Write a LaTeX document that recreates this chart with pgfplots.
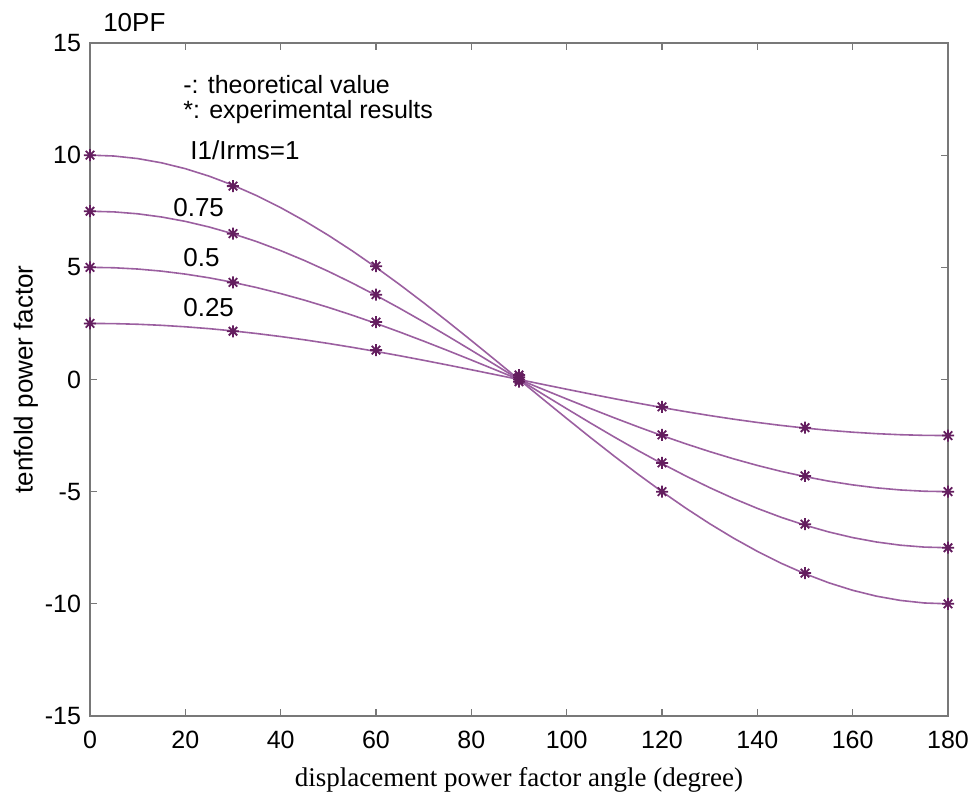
\documentclass[border=0pt]{standalone}
\usepackage{fontspec}
\setmainfont{Liberation Serif}
\newfontfamily\arial{Liberation Sans}
\usepackage{pgfplots}
\usepackage{pgfplotstable}
\pgfplotsset{compat=1.18}

\definecolor{curve}{RGB}{155,95,160}
\definecolor{markc}{RGB}{100,30,95}
\definecolor{axisgray}{RGB}{120,120,120}

\pgfdeclareplotmark{ast8}{%
  \pgfpathmoveto{\pgfqpoint{-\pgfplotmarksize}{0pt}}%
  \pgfpathlineto{\pgfqpoint{\pgfplotmarksize}{0pt}}%
  \pgfpathmoveto{\pgfqpoint{0pt}{-\pgfplotmarksize}}%
  \pgfpathlineto{\pgfqpoint{0pt}{\pgfplotmarksize}}%
  \pgfpathmoveto{\pgfqpoint{-0.707\pgfplotmarksize}{-0.707\pgfplotmarksize}}%
  \pgfpathlineto{\pgfqpoint{0.707\pgfplotmarksize}{0.707\pgfplotmarksize}}%
  \pgfpathmoveto{\pgfqpoint{-0.707\pgfplotmarksize}{0.707\pgfplotmarksize}}%
  \pgfpathlineto{\pgfqpoint{0.707\pgfplotmarksize}{-0.707\pgfplotmarksize}}%
  \pgfusepathqstroke}

% theoretical value, every 5 degrees
\pgfplotstableread{
x    a       b       c       d
0    10.000  7.500   5.000   2.500
5    9.962   7.471   4.981   2.490
10   9.848   7.386   4.924   2.462
15   9.659   7.244   4.830   2.415
20   9.397   7.048   4.698   2.349
25   9.063   6.797   4.532   2.266
30   8.660   6.495   4.330   2.165
35   8.192   6.144   4.096   2.048
40   7.660   5.745   3.830   1.915
45   7.071   5.303   3.536   1.768
50   6.428   4.821   3.214   1.607
55   5.736   4.302   2.868   1.434
60   5.000   3.750   2.500   1.250
65   4.226   3.170   2.113   1.057
70   3.420   2.565   1.710   0.855
75   2.588   1.941   1.294   0.647
80   1.736   1.302   0.868   0.434
85   0.872   0.654   0.436   0.218
90   0.000   0.000   0.000   0.000
95   -0.872  -0.654  -0.436  -0.218
100  -1.736  -1.302  -0.868  -0.434
105  -2.588  -1.941  -1.294  -0.647
110  -3.420  -2.565  -1.710  -0.855
115  -4.226  -3.170  -2.113  -1.057
120  -5.000  -3.750  -2.500  -1.250
125  -5.736  -4.302  -2.868  -1.434
130  -6.428  -4.821  -3.214  -1.607
135  -7.071  -5.303  -3.536  -1.768
140  -7.660  -5.745  -3.830  -1.915
145  -8.192  -6.144  -4.096  -2.048
150  -8.660  -6.495  -4.330  -2.165
155  -9.063  -6.797  -4.532  -2.266
160  -9.397  -7.048  -4.698  -2.349
165  -9.659  -7.244  -4.830  -2.415
170  -9.848  -7.386  -4.924  -2.462
175  -9.962  -7.471  -4.981  -2.490
180  -10.000 -7.500  -5.000  -2.500
}\theory

% experimental results
\pgfplotstableread{
x     a       b       c       d
0     10.00   7.50    5.00    2.50
30    8.62    6.50    4.33    2.15
60    5.05    3.78    2.56    1.31
90    -0.10   0.00    0.10    0.20
120   -5.00   -3.72   -2.47   -1.22
150   -8.63   -6.45   -4.30   -2.15
180   -10.00  -7.50   -5.00   -2.50
}\expt

\tikzset{ann/.style={font=\arial\fontsize{13}{15}\selectfont, inner sep=0pt, anchor=base west}}

\begin{document}
\begin{tikzpicture}
\begin{axis}[
  scale only axis, width=429pt, height=336.5pt,
  xmin=0, xmax=180, ymin=-15, ymax=15,
  xtick={0,20,...,180}, ytick={-15,-10,...,15},
  tick align=inside, major tick length=3.5pt,
  axis line style={axisgray, line width=0.8pt},
  tick style={axisgray, line width=0.6pt},
  tick label style={font=\arial\fontsize{12.5}{14}\selectfont, text=black},
  /pgf/number format/assume math mode=true,
  xticklabel style={yshift=-4pt},
  yticklabel style={xshift=-1pt},
  xlabel={displacement power factor angle (degree)},
  xlabel style={at={(axis description cs:0.5,0)}, anchor=base, yshift=-35.5pt,
    font=\fontsize{13.5}{15}\selectfont},
  ylabel={tenfold power factor},
  ylabel style={at={(axis description cs:0,0.5)}, anchor=center, yshift=32pt,
    font=\arial\fontsize{13}{15}\selectfont},
  clip=false,
]
\foreach \c in {a,b,c,d}{
  \addplot[curve, line width=0.8pt, no marks] table[x=x, y=\c] {\theory};
}
\foreach \c in {a,b,c,d}{
  \addplot[only marks, mark=ast8, mark size=3pt,
    mark options={draw=markc, line width=0.9pt}] table[x=x, y=\c] {\expt};
}
\node[ann] at (axis cs:2.7,15.5) {10PF};
\node[ann, font=\arial\fontsize{12.5}{14}\selectfont] at (axis cs:19.5,12.75) {-: theoretical value};
\node[ann, font=\arial\fontsize{12.5}{14}\selectfont] at (axis cs:19.5,11.65) {*: experimental results};
\node[ann] at (axis cs:21,9.8) {I1/Irms=1};
\node[ann] at (axis cs:17.4,7.27) {0.75};
\node[ann] at (axis cs:19.5,5.04) {0.5};
\node[ann] at (axis cs:19.5,2.81) {0.25};
\end{axis}
\pgfresetboundingbox
\path (-45pt,-40pt) rectangle (442.5pt,358pt);
\end{tikzpicture}
\end{document}
